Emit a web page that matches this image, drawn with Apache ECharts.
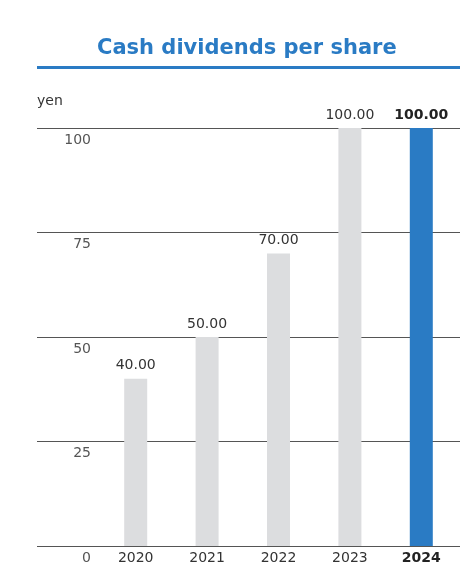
<!DOCTYPE html>
<html><head><meta charset="utf-8">
<script src="https://cdn.jsdelivr.net/npm/echarts@6/dist/echarts.min.js"></script>
<style>html,body{margin:0;padding:0;background:#fff}#c{width:474px;height:565px}</style>
</head><body><div id="c"></div>
<script>
const titleText = 'Cash dividends per share';
const unitText = 'yen';
const categories = ['2020', '2021', '2022', '2023', '2024'];
const values = [40, 50, 70, 100, 100];
const yTicks = [0, 25, 50, 75, 100];
const highlightIndex = 4;

const FONT = 'DejaVu Sans';
const BLUE = '#2a7bc4';
const GRAY = '#dcdddf';

const chart = echarts.init(document.getElementById('c'), null, {renderer: 'canvas'});
chart.setOption({
  animation: false,
  textStyle: {fontFamily: FONT},
  title: {
    text: titleText, left: 92, top: 33,
    textStyle: {fontFamily: FONT, fontSize: 21, fontWeight: 'bold', color: BLUE}
  },
  graphic: [{type: 'rect', shape: {x: 37, y: 66, width: 423, height: 3}, style: {fill: BLUE}}],
  grid: [
    {left: 37, right: 14, top: 128, bottom: 19},
    {left: 100, right: 17, top: 128, bottom: 19}
  ],
  xAxis: [
    {gridIndex: 0, type: 'value', min: 0, max: 1, show: false},
    {gridIndex: 1, type: 'category', data: categories,
     axisLine: {show: false}, axisTick: {show: false},
     axisLabel: {interval: 0, margin: 5, fontSize: 14, color: '#333', fontFamily: FONT,
       formatter: (v, i) => i === highlightIndex ? '{b|' + v + '}' : v,
       rich: {b: {fontWeight: 'bold', fontSize: 14, color: '#222', fontFamily: FONT}}}}
  ],
  yAxis: [
    {gridIndex: 0, type: 'value', min: yTicks[0], max: yTicks[yTicks.length - 1], interval: 25,
     name: unitText, nameLocation: 'end', nameGap: 27,
     nameTextStyle: {align: 'left', verticalAlign: 'middle', fontSize: 14, color: '#333', fontFamily: FONT},
     axisLine: {show: false}, axisTick: {show: false},
     splitLine: {show: true, lineStyle: {color: '#555', width: 1}},
     axisLabel: {inside: true, margin: 54, align: 'right', verticalAlign: 'top', padding: [5, 0, 0, 0],
       fontSize: 14, color: '#555', fontFamily: FONT}},
    {gridIndex: 1, type: 'value', min: yTicks[0], max: yTicks[yTicks.length - 1], interval: 25, show: false}
  ],
  series: [{
    type: 'bar', xAxisIndex: 1, yAxisIndex: 1, barWidth: 23,
    data: values.map((v, i) => ({
      value: v,
      itemStyle: {color: i === highlightIndex ? BLUE : GRAY},
      label: i === highlightIndex ? {fontWeight: 'bold', color: '#222'} : {}
    })),
    label: {show: true, position: 'top', distance: 6, fontSize: 14, color: '#333', fontFamily: FONT,
      formatter: p => p.value.toFixed(2)}
  }]
});
</script></body></html>
